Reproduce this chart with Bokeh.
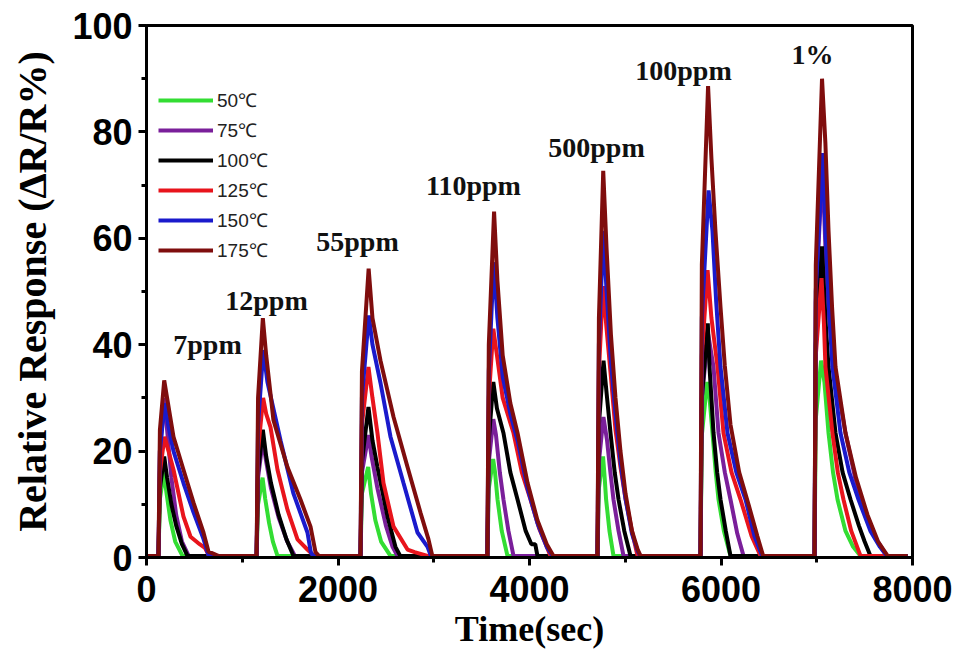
from bokeh.plotting import figure
from bokeh.models import Range1d, SingleIntervalTicker, Legend, LegendItem, Label
from bokeh.embed import file_html
from bokeh.resources import INLINE

# ---- data (time in s, relative response in %) ----
SERIES_NAMES = ["50℃", "75℃", "100℃", "125℃", "150℃", "175℃"]
SERIES_COLORS = ["#33dd33", "#7a1f9a", "#000000", "#e8141c", "#1a1acc", "#7f0d0d"]

S50 = [(0, 0.3),
       (125, 0.3), (140, 11), (182, 16), (210, 12), (250, 7), (300, 3), (376, 0.3),
       (1150, 0.3), (1165, 10), (1212, 15), (1240, 11), (1280, 6.5), (1320, 3), (1368, 0.3),
       (2235, 0.3), (2250, 12), (2315, 17), (2345, 12), (2390, 7), (2450, 3), (2548, 0.3),
       (3560, 0.3), (3575, 13), (3620, 18.5), (3640, 16), (3666, 10.9), (3710, 5), (3770, 0.3),
       (4710, 0.3), (4725, 13), (4768, 19), (4785, 15), (4800, 10.9), (4835, 5), (4877, 0.3),
       (5786, 0.3), (5800, 23), (5855, 33), (5880, 30), (5911, 23.4), (5945, 16), (5974, 10.9), (6030, 5), (6099, 0.3),
       (6977, 0.3), (6990, 26), (7045, 37), (7080, 33), (7123, 23.4), (7170, 16), (7217, 10.9), (7300, 5), (7380, 2), (7457, 0.3),
       (7950, 0.3)]

S75 = [(0, 0.3),
       (125, 0.3), (140, 20), (188, 30), (215, 24), (260, 15), (310, 8), (370, 3), (440, 0.3),
       (1150, 0.3), (1165, 15), (1215, 22), (1250, 18), (1300, 13), (1380, 7.5), (1470, 3), (1550, 0.3),
       (2235, 0.3), (2250, 16), (2318, 23), (2350, 19), (2412, 13), (2500, 6), (2570, 2), (2620, 0.3),
       (3560, 0.3), (3575, 18), (3622, 26), (3650, 23), (3690, 16), (3728, 10.9), (3780, 5), (3833, 0.3),
       (4710, 0.3), (4725, 18), (4772, 26.4), (4810, 22), (4845, 16), (4877, 10.9), (4930, 5), (4982, 0.3),
       (5786, 0.3), (5800, 30), (5866, 42), (5922, 35.8), (5974, 23.4), (6040, 16), (6099, 10.9), (6170, 4.5), (6235, 0.3),
       (6977, 0.3), (6990, 48), (7060, 74), (7091, 58), (7130, 45), (7180, 35.8), (7300, 23.4), (7400, 15), (7500, 9), (7620, 3.5), (7730, 0.3),
       (7950, 0.3)]

S100 = [(0, 0.3),
        (125, 0.3), (140, 13), (185, 19), (215, 15), (260, 10), (310, 6), (370, 2.5), (428, 0.3),
        (1150, 0.3), (1165, 16), (1215, 24), (1250, 19), (1300, 14), (1380, 8), (1460, 3.5), (1535, 0.3),
        (2235, 0.3), (2250, 18), (2318, 28.3), (2360, 22), (2412, 17), (2517, 7.7), (2600, 2), (2650, 0.3),
        (3560, 0.3), (3575, 22), (3622, 33), (3660, 28), (3728, 23.4), (3800, 16), (3875, 10.9), (3960, 5), (4020, 2.5), (4060, 2.5), (4083, 0.3),
        (4710, 0.3), (4725, 25), (4773, 37), (4810, 30), (4846, 23.4), (4890, 16), (4930, 10.9), (4990, 5), (5055, 0.3),
        (5786, 0.3), (5800, 30), (5862, 44), (5880, 35.8), (5922, 23.4), (5960, 16), (5995, 10.9), (6050, 5), (6099, 0.3),
        (6977, 0.3), (6990, 40), (7055, 58.5), (7090, 45), (7123, 35.8), (7196, 23.4), (7270, 16), (7353, 10.9), (7440, 6), (7500, 3), (7561, 0.3),
        (7950, 0.3)]

S125 = [(0, 0.3),
        (125, 0.3), (140, 16), (188, 22.7), (230, 20), (282, 16.5), (386, 7.7), (460, 3.9), (555, 2.5), (610, 1.8), (648, 0.5), (670, 0.3),
        (1150, 0.3), (1165, 20), (1218, 30), (1250, 27), (1295, 24.5), (1368, 16.5), (1472, 9), (1577, 3.4), (1680, 1.5), (1750, 0.3),
        (2235, 0.3), (2250, 25), (2318, 35.8), (2360, 30), (2412, 23.4), (2475, 14), (2580, 5.8), (2726, 1.5), (2800, 1), (2935, 0.3),
        (3560, 0.3), (3575, 30), (3622, 43), (3660, 38), (3720, 30), (3833, 23.4), (3920, 16), (4010, 10.9), (4100, 5.5), (4180, 2), (4219, 0.3),
        (4710, 0.3), (4725, 35), (4768, 51), (4805, 43), (4850, 34), (4898, 24), (4950, 17), (5003, 11), (5070, 5), (5128, 0.3),
        (5786, 0.3), (5800, 38), (5860, 54), (5900, 45), (5964, 35.8), (6026, 23.4), (6110, 16), (6204, 10.9), (6320, 4), (6413, 0.3),
        (6977, 0.3), (6990, 38), (7050, 52.5), (7075, 44), (7091, 35.8), (7164, 23.4), (7220, 16), (7279, 10.9), (7360, 5), (7457, 0.3),
        (7950, 0.3)]

S150 = [(0, 0.3),
        (125, 0.3), (140, 20), (190, 29), (225, 25), (282, 20), (386, 14), (491, 8.5), (595, 3.5), (650, 0.3),
        (1150, 0.3), (1165, 25), (1220, 39), (1263, 33), (1400, 22), (1535, 12), (1681, 4.7), (1716, 1), (1740, 0.3),
        (2235, 0.3), (2250, 30), (2322, 45.5), (2360, 40), (2444, 32.8), (2548, 22.7), (2684, 14), (2830, 4.7), (2935, 2), (2970, 0.3),
        (3560, 0.3), (3575, 35), (3627, 55.5), (3665, 45), (3720, 34), (3800, 27), (3875, 22), (3980, 13), (4083, 6.5), (4180, 2), (4240, 0.3),
        (4710, 0.3), (4725, 40), (4772, 61.4), (4805, 50), (4850, 37), (4898, 27), (4950, 18), (5003, 11), (5070, 4.5), (5130, 1.2), (5155, 0.3),
        (5786, 0.3), (5800, 45), (5870, 69), (5911, 61.4), (5950, 48), (5995, 35.8), (6068, 23.4), (6160, 16), (6256, 10.9), (6350, 4), (6430, 0.3),
        (6977, 0.3), (6990, 50), (7062, 76), (7091, 61.4), (7130, 46), (7164, 35.8), (7248, 23.4), (7340, 16), (7436, 10.9), (7560, 5), (7660, 2), (7730, 0.3),
        (7950, 0.3)]

S175 = [(0, 0.3),
        (125, 0.3), (140, 24), (185, 33.3), (215, 30), (282, 22.7), (386, 16.5), (491, 10.3), (595, 4.7), (648, 1.1), (750, 0.3),
        (1150, 0.3), (1165, 30), (1215, 45), (1250, 38), (1326, 25.8), (1472, 17), (1608, 10.9), (1713, 5.8), (1765, 1), (1800, 0.3),
        (2235, 0.3), (2250, 35), (2320, 54.3), (2360, 45), (2444, 37), (2580, 26.4), (2726, 17), (2862, 8.4), (2945, 3.4), (2985, 0.3),
        (3560, 0.3), (3575, 40), (3630, 65), (3665, 52), (3720, 38), (3800, 29), (3875, 23.4), (3980, 14), (4083, 7), (4180, 2.5), (4250, 0.3),
        (4710, 0.3), (4725, 45), (4770, 72.7), (4805, 58), (4850, 42), (4898, 30), (4950, 20), (5003, 12), (5070, 5), (5130, 1.5), (5160, 0.3),
        (5786, 0.3), (5800, 55), (5865, 88.6), (5900, 75), (5942, 61.4), (5995, 47), (6040, 36), (6099, 25), (6190, 16), (6287, 10), (6380, 4), (6440, 0.3),
        (6977, 0.3), (6990, 55), (7055, 90), (7090, 78), (7123, 61.4), (7160, 47), (7196, 35.8), (7300, 23.4), (7410, 15), (7530, 8), (7640, 3), (7740, 0.3),
        (7950, 0.3)]

PULSE_LABELS = ["7ppm", "12ppm", "55ppm", "110ppm", "500ppm", "100ppm", "1%"]
PULSE_LABEL_T = [637, 1253, 2204, 3415, 4700, 5608, 6956]
PULSE_LABEL_R = [40.0, 48.4, 59.4, 69.9, 77.0, 91.5, 94.5]

ALL_SERIES = [S50, S75, S100, S125, S150, S175]

# ---- figure ----
p = figure(width=957, height=663, output_backend="svg", toolbar_location=None,
           x_range=Range1d(0, 8000), y_range=Range1d(0, 100),
           min_border_left=146, min_border_right=45, min_border_top=25, min_border_bottom=106)
p.background_fill_color = "white"
p.border_fill_color = "white"
p.grid.visible = False
p.outline_line_color = "black"
p.outline_line_width = 3

items = []
for name, color, pts in zip(SERIES_NAMES, SERIES_COLORS, ALL_SERIES):
    ts = [a for a, b in pts]
    vs = [b for a, b in pts]
    r = p.line(ts, vs, line_color=color, line_width=4)
    items.append(LegendItem(label=name, renderers=[r]))

legend = Legend(items=items, location=(12, 294), border_line_alpha=0,
                background_fill_alpha=0, glyph_width=55, glyph_height=22,
                label_height=22, spacing=4, padding=0, margin=0, label_standoff=4,
                label_text_font="Liberation Sans", label_text_font_size="19px",
                label_text_color="#222222")
p.add_layout(legend)

for txt, t, v in zip(PULSE_LABELS, PULSE_LABEL_T, PULSE_LABEL_R):
    p.add_layout(Label(x=t, y=v, text=txt, text_font="Liberation Serif",
                       text_font_style="bold", text_font_size="28px",
                       text_align="center", text_baseline="alphabetic",
                       text_color="#111111"))

p.xaxis.ticker = SingleIntervalTicker(interval=2000, num_minor_ticks=2)
p.yaxis.ticker = SingleIntervalTicker(interval=20, num_minor_ticks=2)
for ax in (p.xaxis, p.yaxis):
    ax.axis_line_width = 3
    ax.axis_line_color = "black"
    ax.major_tick_line_width = 3
    ax.minor_tick_line_width = 3
    ax.major_tick_out = 8
    ax.major_tick_in = 0
    ax.minor_tick_out = 5
    ax.minor_tick_in = 0
    ax.major_label_text_font = "Liberation Sans"
    ax.major_label_text_font_style = "bold"
    ax.major_label_text_font_size = "36px"
    ax.major_label_text_color = "black"
    ax.axis_label_text_font = "Liberation Serif"
    ax.axis_label_text_font_style = "bold"
    ax.axis_label_text_color = "black"

p.xaxis.axis_label = "Time(sec)"
p.yaxis.axis_label = "Relative Response (ΔR/R%)"
p.xaxis.axis_label_text_font_size = "36px"
p.yaxis.axis_label_text_font_size = "40px"
p.xaxis.major_label_standoff = 10
p.yaxis.major_label_standoff = 6
p.xaxis.axis_label_standoff = 4
p.yaxis.axis_label_standoff = 14

open("out.html", "w").write(file_html(p, INLINE))
